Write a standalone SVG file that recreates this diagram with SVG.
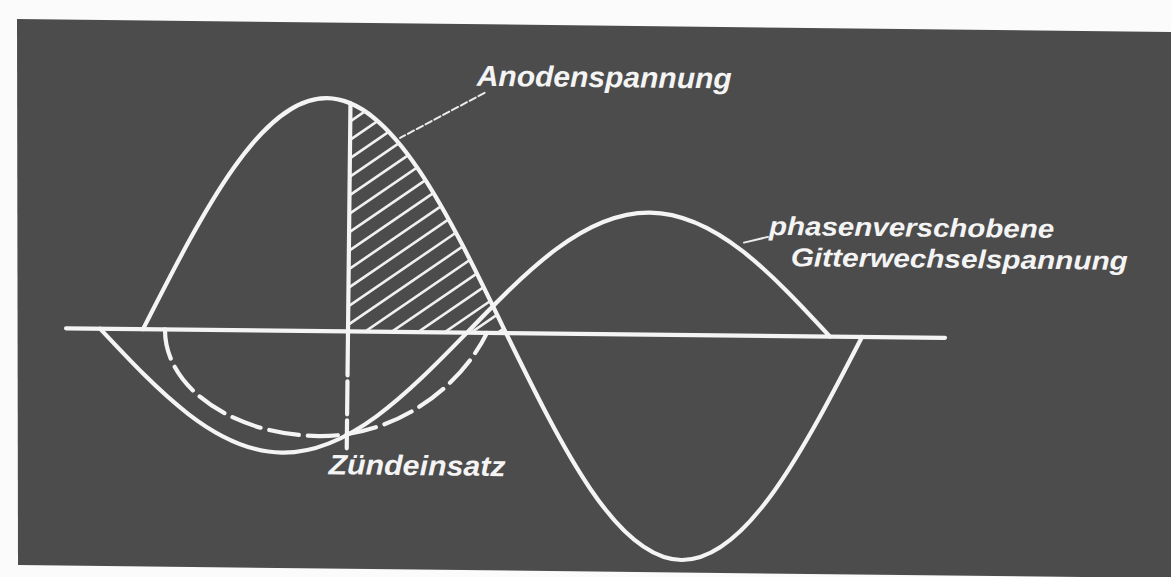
<svg xmlns="http://www.w3.org/2000/svg" width="1171" height="577" viewBox="0 0 1171 577">
  <style>
    .curve { fill: none; stroke: #f4f4f4; stroke-width: 4.2; stroke-linecap: round; stroke-linejoin: round; }
    .thin { fill: none; stroke: #f0f0f0; stroke-width: 2.6; stroke-linecap: round; }
    .lead { fill: none; stroke: #ececec; stroke-width: 2; stroke-linecap: round; }
    .lbl { font-family: "Liberation Sans", Arial, sans-serif; font-style: italic; font-weight: bold; fill: #f4f4f4; }
  </style>
  <defs>
    <clipPath id="hump">
      <path d="M143,333 C202.2,213.6 258.8,100 324.5,100 C390.2,100 446.8,213.6 506,333 Z"/>
    </clipPath>
    <clipPath id="rightOfLine">
      <rect x="348" y="90" width="180" height="243"/>
    </clipPath>
  </defs>

  <rect x="0" y="0" width="1171" height="577" fill="#fbfbfb"/>
  <polygon id="background" points="17,19 1171,32 1171,578 18,565" fill="#4c4c4c"/>

  <g transform="rotate(0.62 500 333)">
    <g id="connectors">
      <line id="axis" class="curve" x1="66" y1="333" x2="945" y2="333"/>
      <line class="lead" x1="482" y1="93" x2="398" y2="139" stroke-dasharray="7 3"/>
      <line class="lead" x1="743" y1="240" x2="767" y2="234"/>
    </g>

    <g id="anodenspannung-curve">
      <path class="curve" d="M143,333 C202.2,213.6 258.8,100 324.5,100 C390.2,100 446.8,213.6 506,333 C564,448.3 619.6,558 684,558 C748.4,558 804,448.3 862,333"/>
    </g>

    <g id="hatching" clip-path="url(#hump)">
      <g clip-path="url(#rightOfLine)">
        <path class="thin" d="M348,123 l190,-133 M348,141.5 l190,-133 M348,160 l190,-133 M348,178.5 l190,-133 M348,197 l190,-133 M348,215.5 l190,-133 M348,234 l190,-133 M348,252.5 l190,-133 M348,271 l190,-133 M348,289.5 l190,-133 M348,308 l190,-133 M348,326.5 l190,-133 M348,345 l190,-133 M348,363.5 l190,-133 M348,382 l190,-133 M348,400.5 l190,-133 M348,419 l190,-133 M348,437.5 l190,-133 M348,456 l190,-133"/>
      </g>
    </g>

    <g id="gitterwechselspannung-curve">
      <path class="curve" d="M100,333 C159.8,395.5 217.1,455 283.5,455 C349.9,455 407.2,395.5 467,333 C526.2,270.5 582.8,211 648.5,211 C714.2,211 770.8,270.5 830,333"/>
    </g>

    <g id="zuendkennlinie">
      <path class="curve" stroke-width="3.6" stroke-dasharray="30 9" d="M165,333 C165,391 234.4,438 320,438 C396,438 460,389 487,333"/>
    </g>

    <g id="zuendeinsatz-line">
      <line class="curve" x1="348" y1="105" x2="348" y2="333"/>
      <line class="curve" x1="348" y1="333" x2="348" y2="450" stroke-dasharray="44 6 33 6 40"/>
    </g>

    <g id="label-anodenspannung">
      <text class="lbl" x="474" y="86" font-size="29" textLength="255" lengthAdjust="spacingAndGlyphs">Anodenspannung</text>
    </g>
    <g id="label-gitter">
      <text class="lbl" x="768" y="232" font-size="26" textLength="285" lengthAdjust="spacingAndGlyphs">phasenverschobene</text>
      <text class="lbl" x="790" y="263" font-size="26" textLength="337" lengthAdjust="spacingAndGlyphs">Gitterwechselspannung</text>
    </g>
    <g id="label-zuendeinsatz">
      <text class="lbl" x="330" y="476" font-size="28" textLength="177" lengthAdjust="spacingAndGlyphs">Zündeinsatz</text>
    </g>
  </g>
</svg>
